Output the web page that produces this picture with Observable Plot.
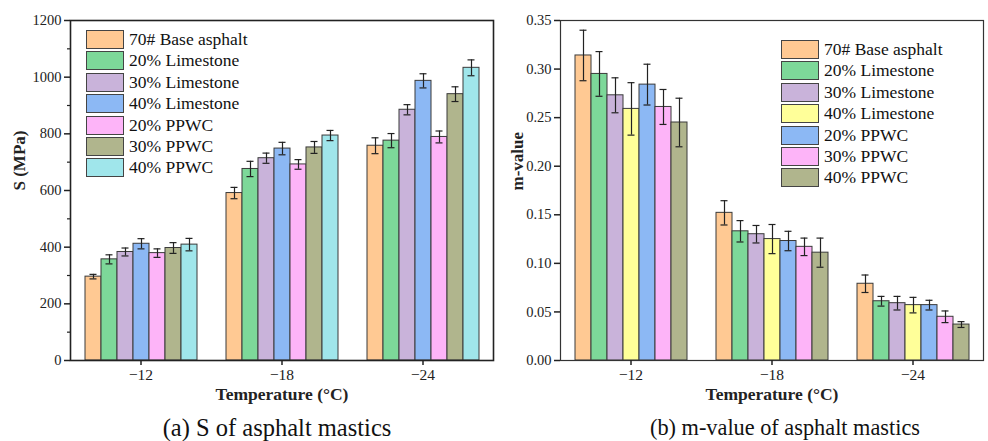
<!DOCTYPE html>
<html>
<head>
<meta charset="utf-8">
<script src="https://cdn.jsdelivr.net/npm/d3@7"></script>
<script src="https://cdn.jsdelivr.net/npm/@observablehq/plot@0.6"></script>
<style>
  body { margin: 0; background: #fff; }
  #wrap { position: relative; width: 988px; height: 441px; font-family: 'Liberation Serif'; color: #111; overflow: hidden; }
  #wrap svg, #wrap svg text { font-family: 'Liberation Serif' !important; }
  .panel { position: absolute; top: 0; }
  .caption { position: absolute; top: 414px; font-family: 'Liberation Serif'; line-height: 28px; white-space: nowrap; transform: translateX(-50%); color: #111; }
  .legend { position: absolute; font-family: 'Liberation Serif'; }
  .legend .row { display: flex; align-items: center; height: 19px; margin-bottom: 2.4px; }
  .legend .sw { width: 38px; height: 19px; border: 1px solid #444; box-sizing: border-box; }
  .legend .lb { margin-left: 5px; font-size: 17.5px; line-height: 19px; white-space: nowrap; }
</style>
</head>
<body>
<div id="wrap">
  <div id="left" class="panel" style="left:0"></div>
  <div id="right" class="panel" style="left:497px"></div>
  <div class="caption" style="left:277px;font-size:24.5px">(a) S of asphalt mastics</div>
  <div class="caption" style="left:785px;font-size:22.3px">(b) m-value of asphalt mastics</div>
</div>
<script>
// ---- data ----
const temperatures = ["\u221212", "\u221218", "\u221224"];
const seriesNames = ["70# Base asphalt", "20% Limestone", "30% Limestone", "40% Limestone", "20% PPWC", "30% PPWC", "40% PPWC"];

// (a) stiffness S (MPa), one array per temperature, in seriesNames order
const sAtMinus12 = [296, 357, 383, 412, 379, 397, 409];
const sAtMinus18 = [591, 676, 714, 748, 692, 752, 794];
const sAtMinus24 = [758, 776, 885, 987, 789, 940, 1033];
const sErrMinus12 = [8, 16, 14, 18, 15, 19, 22];
const sErrMinus18 = [20, 27, 18, 22, 17, 21, 18];
const sErrMinus24 = [28, 25, 18, 25, 21, 26, 28];

// (b) m-value
const mAtMinus12 = [0.314, 0.295, 0.273, 0.259, 0.284, 0.261, 0.245];
const mAtMinus18 = [0.152, 0.133, 0.130, 0.125, 0.123, 0.117, 0.111];
const mAtMinus24 = [0.079, 0.061, 0.059, 0.057, 0.057, 0.045, 0.037];
const mErrMinus12 = [0.026, 0.023, 0.018, 0.027, 0.021, 0.018, 0.025];
const mErrMinus18 = [0.0125, 0.011, 0.009, 0.015, 0.010, 0.009, 0.015];
const mErrMinus24 = [0.009, 0.005, 0.007, 0.008, 0.005, 0.006, 0.003];

const sColors = ["#FFC993", "#7DD899", "#C9B3DA", "#8CB8F4", "#FDB4F8", "#B0B58D", "#A0E6EB"];
const mColors = ["#FFC993", "#7DD899", "#C9B3DA", "#FFFF99", "#8CB8F4", "#FDB4F8", "#B0B58D"];

const sTicks = [0, 200, 400, 600, 800, 1000, 1200];
const sMinorTicks = [100, 300, 500, 700, 900, 1100];
const mTicks = [0, 0.05, 0.10, 0.15, 0.20, 0.25, 0.30, 0.35];

function rows(valueArrays, errArrays) {
  const out = [];
  temperatures.forEach((t, ti) => {
    seriesNames.forEach((s, si) => {
      out.push({temp: t, series: s, value: valueArrays[ti][si], err: errArrays[ti][si]});
    });
  });
  return out;
}

const sData = rows([sAtMinus12, sAtMinus18, sAtMinus24], [sErrMinus12, sErrMinus18, sErrMinus24]);
const mData = rows([mAtMinus12, mAtMinus18, mAtMinus24], [mErrMinus12, mErrMinus18, mErrMinus24]);

const FONT = "Liberation Serif";

function chart({data, colors, yDomain, ticks, minor, tickFmt, yLabel, yLabelDx, width, marginLeft, marginRight, frameColor, frameWidth}) {
  const marks = [
    Plot.barY(data, {fx: "temp", x: "series", y: "value", fill: "series", stroke: "#3a3a3a", strokeWidth: 1}),
    Plot.ruleX(data, {fx: "temp", x: "series", y1: d => d.value - d.err, y2: d => d.value + d.err, stroke: "#222", strokeWidth: 1.2}),
    Plot.tickY(data, {fx: "temp", x: "series", y: d => d.value + d.err, stroke: "#222", strokeWidth: 1.2, insetLeft: 4.5, insetRight: 4.5}),
    Plot.tickY(data, {fx: "temp", x: "series", y: d => d.value - d.err, stroke: "#222", strokeWidth: 1.2, insetLeft: 4.5, insetRight: 4.5}),
    Plot.frame({facet: "super", stroke: frameColor, strokeWidth: frameWidth}),
    Plot.axisY({ticks, tickSize: 6, tickPadding: 3, tickFormat: tickFmt, label: null, fontSize: 14.5, fontFamily: FONT, strokeWidth: 1.5}),
    Plot.axisFx({anchor: "bottom", tickSize: 5, tickPadding: 3, label: null, fontSize: 15.5, fontFamily: FONT, strokeWidth: 1.5}),
    Plot.text(["Temperature (\u00B0C)"], {facet: "super", frameAnchor: "bottom", dy: 39, fontWeight: "bold", fontSize: 17.5, fontFamily: FONT}),
    Plot.text([yLabel], {facet: "super", frameAnchor: "left", dx: yLabelDx, rotate: -90, fontWeight: "bold", fontSize: 17, fontFamily: FONT})
  ];
  if (minor) marks.push(Plot.axisY({ticks: minor, tickSize: 3, tickFormat: () => "", label: null, strokeWidth: 1.2}));
  return Plot.plot({
    width, height: 410,
    marginLeft, marginRight, marginTop: 20, marginBottom: 50,
    style: {fontFamily: FONT, fontSize: "14px", color: "#222", background: "#fff"},
    fx: {domain: temperatures, padding: 0, label: null},
    x: {domain: seriesNames, paddingInner: 0, paddingOuter: 0.86, axis: null},
    y: {domain: yDomain, label: null},
    color: {domain: seriesNames, range: colors},
    marks
  });
}

document.getElementById("left").appendChild(chart({
  data: sData, colors: sColors, yDomain: [0, 1200], ticks: sTicks, minor: sMinorTicks,
  tickFmt: d => String(d), yLabel: "S (MPa)", yLabelDx: -51,
  width: 497, marginLeft: 69, marginRight: 3, frameColor: "#222", frameWidth: 1.6
}));
document.getElementById("right").appendChild(chart({
  data: mData, colors: mColors, yDomain: [0, 0.35], ticks: mTicks, minor: null,
  tickFmt: d => d.toFixed(2), yLabel: "m-value", yLabelDx: -43,
  width: 491, marginLeft: 62, marginRight: 4, frameColor: "#333", frameWidth: 1.2
}));

function legend(parent, left, top, colors) {
  const div = document.createElement("div");
  div.className = "legend";
  div.style.left = left + "px";
  div.style.top = top + "px";
  seriesNames.forEach((s, i) => {
    const row = document.createElement("div");
    row.className = "row";
    const sw = document.createElement("div");
    sw.className = "sw";
    sw.style.background = colors[i];
    const lb = document.createElement("div");
    lb.className = "lb";
    lb.textContent = s;
    row.appendChild(sw); row.appendChild(lb);
    div.appendChild(row);
  });
  parent.appendChild(div);
}
const wrap = document.getElementById("wrap");
legend(wrap, 86, 30, sColors);
legend(wrap, 781, 40, mColors);
</script>
</body>
</html>
